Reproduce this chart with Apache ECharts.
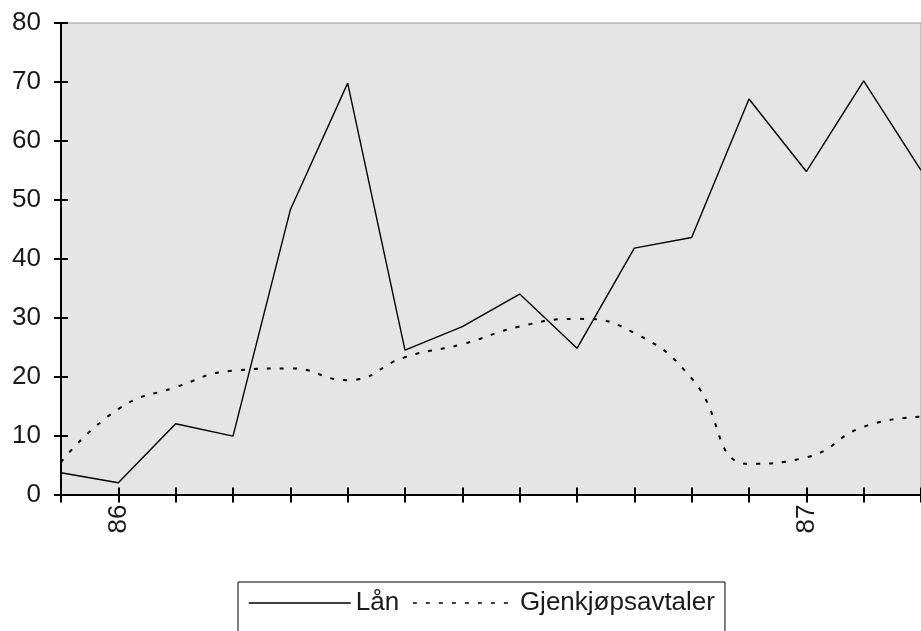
<!DOCTYPE html>
<html>
<head>
<meta charset="utf-8">
<script src="https://cdn.jsdelivr.net/npm/echarts@6/dist/echarts.min.js"></script>
<style>
  html, body { margin: 0; padding: 0; background: #fff; }
  #chart { width: 921px; height: 631px; }
</style>
</head>
<body>
<div id="chart"></div>
<script>
// Monthly observations, Dec 1985 – Mar 1987; only the January ticks carry a year label
const tickLabels = ['', '86', '', '', '', '', '', '', '', '', '', '', '', '87', '', ''];
const lan = [3.7, 2.0, 12.0, 9.9, 48.3, 69.8, 24.5, 28.5, 34.0, 24.8, 41.8, 43.6, 67.1, 54.8, 70.2, 55.0];
const gjenkjop = [5.5, 14.5, 18.2, 21.0, 21.4, 19.4, 23.3, 25.5, 28.5, 29.8, 27.4, 19.7, 5.2, 6.3, 11.5, 13.2];
const yTicks = { min: 0, max: 80, interval: 10 };

const FONT = "'Liberation Sans', Arial, sans-serif";
const chart = echarts.init(document.getElementById('chart'), null, { renderer: 'canvas' });

const baseX = {
  type: 'category',
  data: tickLabels,
  boundaryGap: false,
  position: 'bottom',
  axisLine: { show: true, lineStyle: { color: '#000', width: 2 } },
  splitLine: { show: false }
};
const baseY = {
  type: 'value',
  min: yTicks.min,
  max: yTicks.max,
  interval: yTicks.interval,
  position: 'left',
  axisLine: { show: true, lineStyle: { color: '#000', width: 2 } },
  splitLine: { show: false }
};

chart.setOption({
  animation: false,
  backgroundColor: '#fff',
  textStyle: { fontFamily: FONT },
  grid: {
    left: 61, top: 23, width: 862.5, height: 471.5,
    show: true, backgroundColor: '#e5e5e5', borderColor: '#9a9a9a', borderWidth: 1
  },
  xAxis: [
    Object.assign({}, baseX, {
      axisTick: { show: true, inside: false, length: 8, interval: 0, lineStyle: { color: '#000', width: 2 } },
      axisLabel: {
        show: true, interval: 0, rotate: 90, margin: 10,
        fontSize: 26, fontFamily: FONT, color: '#1a1a1a'
      }
    }),
    Object.assign({}, baseX, {
      axisLine: { show: false },
      axisTick: { show: true, inside: true, length: 7, interval: 0, lineStyle: { color: '#000', width: 2 } },
      axisLabel: { show: false }
    })
  ],
  yAxis: [
    Object.assign({}, baseY, {
      axisTick: { show: true, inside: false, length: 7, lineStyle: { color: '#000', width: 2 } },
      axisLabel: { show: true, margin: 20, fontSize: 26, fontFamily: FONT, color: '#1a1a1a' }
    }),
    Object.assign({}, baseY, {
      axisLine: { show: false },
      axisTick: { show: true, inside: true, length: 7, lineStyle: { color: '#000', width: 2 } },
      axisLabel: { show: false }
    })
  ],
  legend: {
    left: 238, top: 582,
    orient: 'horizontal',
    padding: [8, 10, 30, 10],
    borderColor: '#000', borderWidth: 1,
    itemWidth: 102, itemHeight: 14, itemGap: 13,
    // line-only keys: the marker in the middle of each key is made invisible
    itemStyle: { color: 'rgba(0,0,0,0)', borderWidth: 0 },
    lineStyle: { width: 1.5, color: '#000', opacity: 1 },
    textStyle: { fontSize: 26, fontFamily: FONT, color: '#1a1a1a' },
    data: ['Lån', 'Gjenkjøpsavtaler']
  },
  series: [
    {
      name: 'Lån',
      type: 'line',
      data: lan,
      symbol: 'none',
      lineStyle: { color: '#000', width: 1.4, type: 'solid' },
      itemStyle: { color: '#000' },
      z: 3
    },
    {
      name: 'Gjenkjøpsavtaler',
      type: 'line',
      data: gjenkjop,
      symbol: 'none',
      smooth: 0.5,
      lineStyle: { color: '#000', width: 2, type: [4, 9] },
      itemStyle: { color: '#000' },
      z: 3
    }
  ]
});
</script>
</body>
</html>
